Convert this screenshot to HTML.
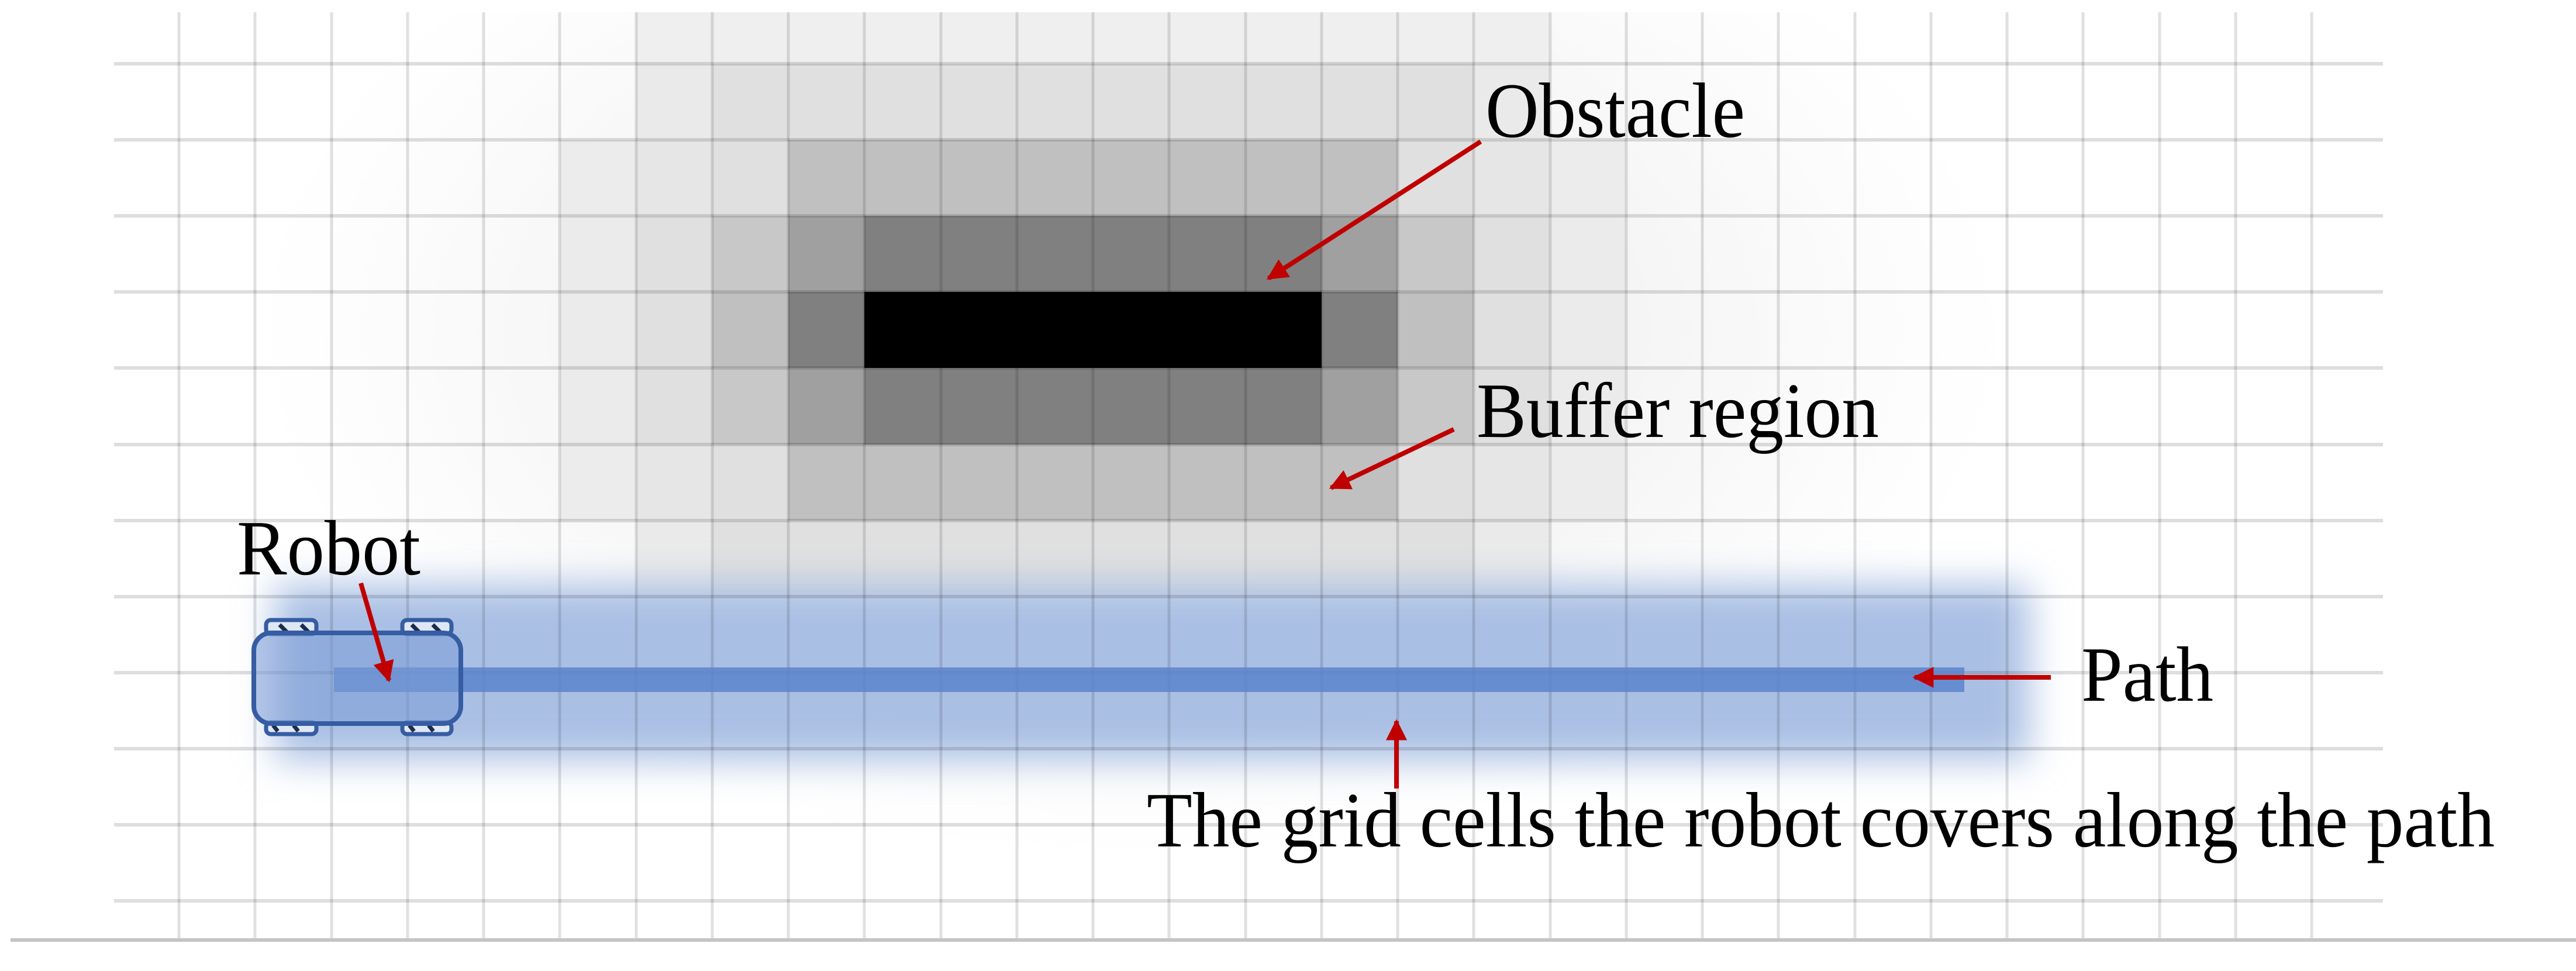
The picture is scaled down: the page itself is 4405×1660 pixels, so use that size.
<!DOCTYPE html>
<html><head><meta charset="utf-8"><style>
html,body{margin:0;padding:0;background:#fff;width:4405px;height:1660px;overflow:hidden}
text{font-family:"Liberation Serif",serif;fill:#000}
</style></head><body>
<svg width="4405" height="1660" viewBox="0 0 4405 1660" xmlns="http://www.w3.org/2000/svg">
<defs>
<radialGradient id="bg" cx="1935" cy="565" r="1500" gradientUnits="userSpaceOnUse" gradientTransform="translate(1935 565) scale(1 0.6) translate(-1935 -565)">
<stop offset="0" stop-color="#ebebeb"/>
<stop offset="0.4" stop-color="#f0f0f0"/>
<stop offset="0.65" stop-color="#f7f7f7"/>
<stop offset="0.85" stop-color="#fcfcfc"/>
<stop offset="1" stop-color="#ffffff"/>
</radialGradient>
<filter id="blur" x="-20%" y="-100%" width="140%" height="300%"><feGaussianBlur stdDeviation="32"/></filter>
<marker id="ah" viewBox="0 0 10 10" refX="9" refY="5" markerWidth="5" markerHeight="4.5" orient="auto" markerUnits="strokeWidth">
<path d="M0,0 L10,5 L0,10 z" fill="#c00000"/></marker>
</defs>
<rect x="195" y="21" width="3880" height="1585" fill="url(#bg)"/>
<!-- row -1 -->
<rect x="1088" y="21" width="1562" height="88" fill="#efefef"/>
<rect x="1088" y="1020" width="1562" height="130" fill="#efefef"/>
<!-- rows 0 and 6 -->
<rect x="1088" y="109" width="1562" height="130" fill="#eaeaea"/>
<rect x="1218" y="109" width="1302" height="130" fill="#e0e0e0"/>
<rect x="1088" y="890" width="1562" height="130" fill="#eaeaea"/>
<rect x="1218" y="890" width="1302" height="130" fill="#e0e0e0"/>
<!-- rows 1 and 5 -->
<rect x="958" y="239" width="1822" height="130" fill="#ececec"/>
<rect x="1088" y="239" width="1562" height="130" fill="#e6e6e6"/>
<rect x="1218" y="239" width="1302" height="130" fill="#e0e0e0"/>
<rect x="1348" y="239" width="1042" height="130" fill="#c0c0c0"/>
<rect x="958" y="760" width="1822" height="130" fill="#ececec"/>
<rect x="1088" y="760" width="1562" height="130" fill="#e6e6e6"/>
<rect x="1218" y="760" width="1302" height="130" fill="#e0e0e0"/>
<rect x="1348" y="760" width="1042" height="130" fill="#c0c0c0"/>
<!-- rows 2-4 -->
<rect x="958" y="369" width="1822" height="391" fill="#ebebeb"/>
<rect x="1088" y="369" width="1562" height="391" fill="#e0e0e0"/>
<rect x="1218" y="369" width="1302" height="391" fill="#c8c8c8"/>
<rect x="1218" y="499" width="1302" height="130" fill="#c0c0c0"/>
<rect x="1348" y="369" width="1042" height="391" fill="#a0a0a0"/>
<rect x="1478" y="369" width="782" height="391" fill="#808080"/>
<rect x="1348" y="499" width="1042" height="130" fill="#808080"/>
<rect x="1478" y="499" width="782" height="130" fill="#000"/>
<!-- blue halo -->
<rect x="470" y="1000" width="3000" height="300" fill="#a9bfe4" filter="url(#blur)"/>
<!-- grid lines -->
<g stroke="#000" stroke-opacity="0.12" stroke-width="5">
<line x1="306" y1="21" x2="306" y2="1606"/><line x1="436" y1="21" x2="436" y2="1606"/><line x1="567" y1="21" x2="567" y2="1606"/><line x1="697" y1="21" x2="697" y2="1606"/><line x1="827" y1="21" x2="827" y2="1606"/><line x1="957" y1="21" x2="957" y2="1606"/><line x1="1088" y1="21" x2="1088" y2="1606"/><line x1="1218" y1="21" x2="1218" y2="1606"/><line x1="1348" y1="21" x2="1348" y2="1606"/><line x1="1478" y1="21" x2="1478" y2="1606"/><line x1="1609" y1="21" x2="1609" y2="1606"/><line x1="1739" y1="21" x2="1739" y2="1606"/><line x1="1869" y1="21" x2="1869" y2="1606"/><line x1="1999" y1="21" x2="1999" y2="1606"/><line x1="2130" y1="21" x2="2130" y2="1606"/><line x1="2260" y1="21" x2="2260" y2="1606"/><line x1="2390" y1="21" x2="2390" y2="1606"/><line x1="2520" y1="21" x2="2520" y2="1606"/><line x1="2651" y1="21" x2="2651" y2="1606"/><line x1="2781" y1="21" x2="2781" y2="1606"/><line x1="2911" y1="21" x2="2911" y2="1606"/><line x1="3041" y1="21" x2="3041" y2="1606"/><line x1="3172" y1="21" x2="3172" y2="1606"/><line x1="3302" y1="21" x2="3302" y2="1606"/><line x1="3432" y1="21" x2="3432" y2="1606"/><line x1="3562" y1="21" x2="3562" y2="1606"/><line x1="3693" y1="21" x2="3693" y2="1606"/><line x1="3823" y1="21" x2="3823" y2="1606"/><line x1="3953" y1="21" x2="3953" y2="1606"/>
</g>
<g stroke="#000" stroke-opacity="0.13" stroke-width="6">
<line x1="195" y1="109" x2="4075" y2="109"/><line x1="195" y1="239" x2="4075" y2="239"/><line x1="195" y1="369" x2="4075" y2="369"/><line x1="195" y1="499" x2="4075" y2="499"/><line x1="195" y1="629" x2="4075" y2="629"/><line x1="195" y1="760" x2="4075" y2="760"/><line x1="195" y1="890" x2="4075" y2="890"/><line x1="195" y1="1020" x2="4075" y2="1020"/><line x1="195" y1="1150" x2="4075" y2="1150"/><line x1="195" y1="1280" x2="4075" y2="1280"/><line x1="195" y1="1410" x2="4075" y2="1410"/><line x1="195" y1="1540" x2="4075" y2="1540"/>
</g>
<line x1="18" y1="1607" x2="4405" y2="1607" stroke="#c4c4c4" stroke-width="6"/>
<!-- path -->
<rect x="571" y="1141" width="2788" height="42" fill="#5b84cc" fill-opacity="0.85"/>
<!-- robot -->
<g stroke="#365da3" stroke-width="7">
<rect x="455" y="1060" width="86" height="24" rx="8" fill="#dfe7f5"/>
<rect x="688" y="1060" width="84" height="24" rx="8" fill="#dfe7f5"/>
<rect x="455" y="1235" width="86" height="20" rx="8" fill="#dfe7f5"/>
<rect x="688" y="1235" width="84" height="20" rx="8" fill="#dfe7f5"/>
</g>
<g stroke="#1c2c4c" stroke-width="7">
<line x1="478" y1="1068" x2="490" y2="1080"/><line x1="515" y1="1068" x2="527" y2="1080"/>
<line x1="704" y1="1068" x2="716" y2="1080"/><line x1="740" y1="1068" x2="752" y2="1080"/>
<line x1="467" y1="1240" x2="475" y2="1250"/><line x1="502" y1="1240" x2="510" y2="1250"/>
<line x1="700" y1="1240" x2="708" y2="1250"/><line x1="733" y1="1240" x2="741" y2="1250"/>
</g>
<rect x="434" y="1082" width="354" height="155" rx="30" fill="#7c9dd6" fill-opacity="0.55" stroke="#365da3" stroke-width="8"/>
<!-- arrows -->
<g stroke="#c00000" stroke-width="8" fill="none" marker-end="url(#ah)">
<line x1="617" y1="997" x2="665" y2="1163"/>
<line x1="2532" y1="242" x2="2169" y2="476"/>
<line x1="2486" y1="734" x2="2276" y2="834"/>
<line x1="3507" y1="1158" x2="3274" y2="1158"/>
<line x1="2388" y1="1348" x2="2388" y2="1233"/>
</g>
<!-- texts -->
<text x="405" y="982" font-size="134" textLength="314" lengthAdjust="spacingAndGlyphs">Robot</text>
<text x="2540" y="234" font-size="134" textLength="444" lengthAdjust="spacingAndGlyphs">Obstacle</text>
<text x="2525" y="747" font-size="134" textLength="688" lengthAdjust="spacingAndGlyphs">Buffer region</text>
<text x="3559" y="1198" font-size="134" textLength="226" lengthAdjust="spacingAndGlyphs">Path</text>
<text x="1961" y="1447" font-size="134" textLength="2305" lengthAdjust="spacingAndGlyphs">The grid cells the robot covers along the path</text>
</svg>
</body></html>
